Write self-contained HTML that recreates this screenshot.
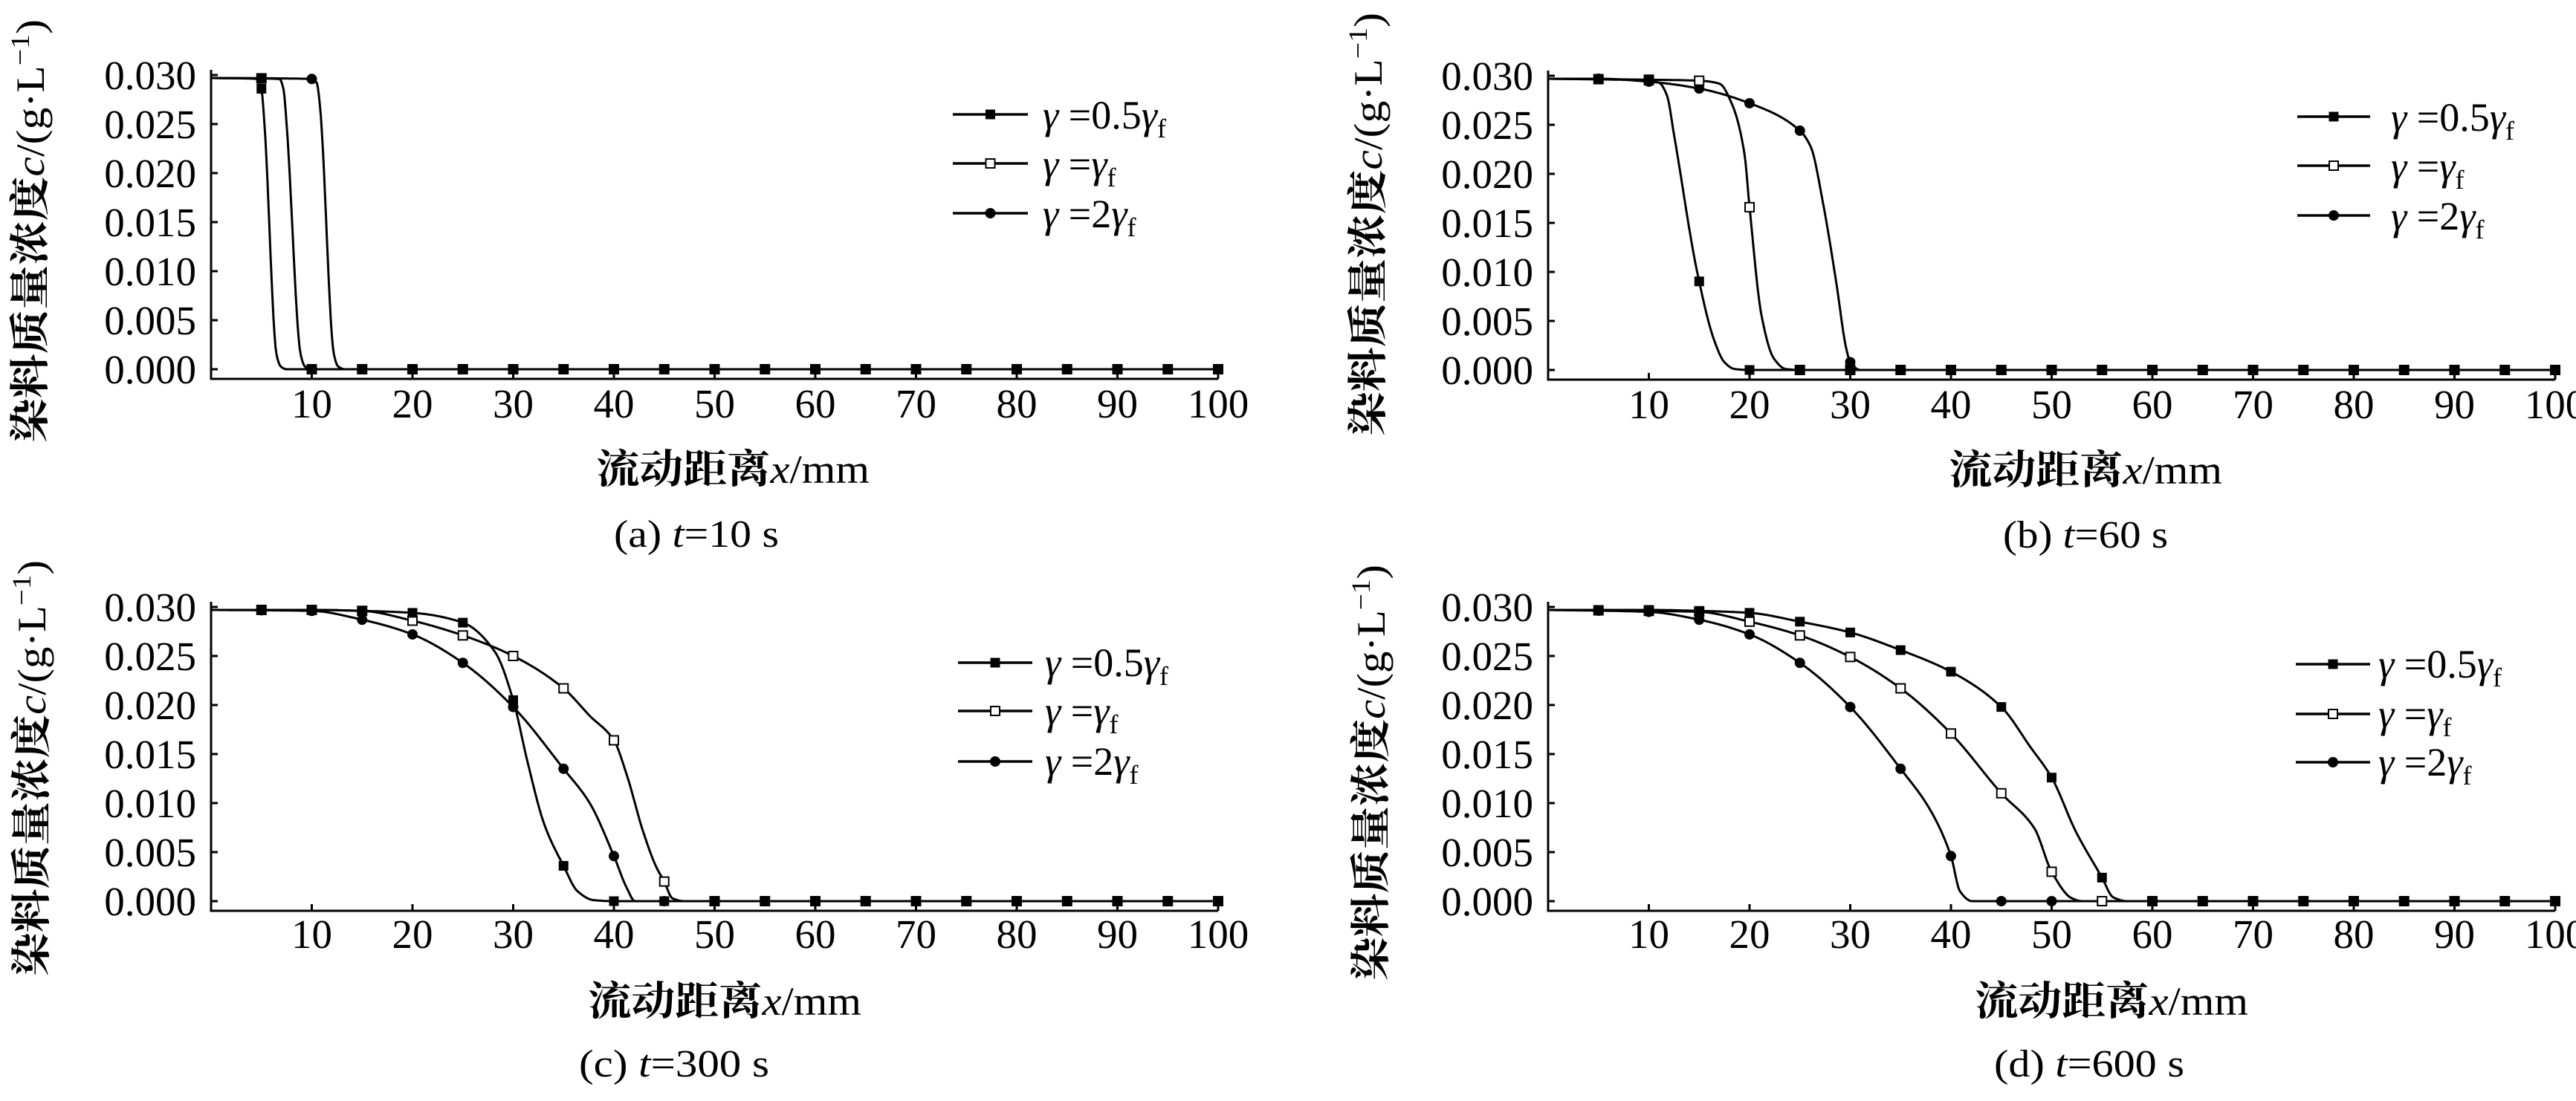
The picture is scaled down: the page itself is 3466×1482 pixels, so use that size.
<!DOCTYPE html>
<html><head><meta charset="utf-8">
<style>
html,body{margin:0;padding:0;background:#fff;}
svg{display:block;}
.t{font-family:"Liberation Serif","Noto Serif CJK SC",serif;fill:#000;}
.cj{font-family:"Liberation Serif","Noto Serif CJK SC",serif;font-weight:bold;}
</style></head>
<body>
<svg id="s" width="3466" height="1482" viewBox="0 0 3466 1482" xmlns="http://www.w3.org/2000/svg">
<rect width="3466" height="1482" fill="#fff"/>

<!-- Panel a -->
<g id="pa" transform="translate(284,101)">
 <g class="t" font-size="55" text-anchor="end">
  <text x="-20" y="19">0.030</text><text x="-20" y="85">0.025</text><text x="-20" y="151">0.020</text><text x="-20" y="217">0.015</text><text x="-20" y="283">0.010</text><text x="-20" y="349">0.005</text><text x="-20" y="415">0.000</text>
 </g>
 <g class="t" font-size="55" text-anchor="middle">
  <text x="135.5" y="461">10</text><text x="271" y="461">20</text><text x="406.5" y="461">30</text><text x="542" y="461">40</text><text x="677.5" y="461">50</text><text x="813" y="461">60</text><text x="948.5" y="461">70</text><text x="1084" y="461">80</text><text x="1219.5" y="461">90</text><text x="1355" y="461">100</text>
 </g>
 <text class="t" transform="translate(-225,210) rotate(-90)" font-size="54" text-anchor="middle" textLength="570" lengthAdjust="spacingAndGlyphs"><tspan class="cj">染料质量浓度</tspan><tspan font-style="italic">c</tspan>/(g·L<tspan font-size="36" dy="-20">−1</tspan><tspan dy="20">)</tspan></text>
 <text class="t" x="518" y="549" font-size="54" textLength="368" lengthAdjust="spacingAndGlyphs"><tspan class="cj">流动距离</tspan><tspan font-style="italic">x</tspan>/mm</text>
 <text class="t" x="542" y="635" font-size="52" textLength="222" lengthAdjust="spacingAndGlyphs">(a) <tspan font-style="italic">t</tspan>=10 s</text>
 <g class="t" font-size="54" transform="translate(1119,0)">
  <text x="0" y="72"><tspan font-style="italic">γ</tspan> =0.5<tspan font-style="italic">γ</tspan><tspan font-size="36" dy="12">f</tspan></text>
  <text x="0" y="138"><tspan font-style="italic">γ</tspan> =<tspan font-style="italic">γ</tspan><tspan font-size="36" dy="12">f</tspan></text>
  <text x="0" y="205"><tspan font-style="italic">γ</tspan> =2<tspan font-style="italic">γ</tspan><tspan font-size="36" dy="12">f</tspan></text>
 </g>
</g>

<!-- Panel b -->
<g id="pb" transform="translate(2083,102)">
 <g class="t" font-size="55" text-anchor="end">
  <text x="-20" y="19">0.030</text><text x="-20" y="85">0.025</text><text x="-20" y="151">0.020</text><text x="-20" y="217">0.015</text><text x="-20" y="283">0.010</text><text x="-20" y="349">0.005</text><text x="-20" y="415">0.000</text>
 </g>
 <g class="t" font-size="55" text-anchor="middle">
  <text x="135.5" y="461">10</text><text x="271" y="461">20</text><text x="406.5" y="461">30</text><text x="542" y="461">40</text><text x="677.5" y="461">50</text><text x="813" y="461">60</text><text x="948.5" y="461">70</text><text x="1084" y="461">80</text><text x="1219.5" y="461">90</text><text x="1355" y="461">100</text>
 </g>
 <text class="t" transform="translate(-224,200) rotate(-90)" font-size="54" text-anchor="middle" textLength="570" lengthAdjust="spacingAndGlyphs"><tspan class="cj">染料质量浓度</tspan><tspan font-style="italic">c</tspan>/(g·L<tspan font-size="36" dy="-20">−1</tspan><tspan dy="20">)</tspan></text>
 <text class="t" x="539" y="549" font-size="54" textLength="368" lengthAdjust="spacingAndGlyphs"><tspan class="cj">流动距离</tspan><tspan font-style="italic">x</tspan>/mm</text>
 <text class="t" x="612" y="635" font-size="52" textLength="222" lengthAdjust="spacingAndGlyphs">(b) <tspan font-style="italic">t</tspan>=60 s</text>
 <g class="t" font-size="54" transform="translate(1134,0)">
  <text x="0" y="74"><tspan font-style="italic">γ</tspan> =0.5<tspan font-style="italic">γ</tspan><tspan font-size="36" dy="12">f</tspan></text>
  <text x="0" y="140"><tspan font-style="italic">γ</tspan> =<tspan font-style="italic">γ</tspan><tspan font-size="36" dy="12">f</tspan></text>
  <text x="0" y="207"><tspan font-style="italic">γ</tspan> =2<tspan font-style="italic">γ</tspan><tspan font-size="36" dy="12">f</tspan></text>
 </g>
</g>

<!-- Panel c -->
<g id="pc" transform="translate(284,817)">
 <g class="t" font-size="55" text-anchor="end">
  <text x="-20" y="19">0.030</text><text x="-20" y="85">0.025</text><text x="-20" y="151">0.020</text><text x="-20" y="217">0.015</text><text x="-20" y="283">0.010</text><text x="-20" y="349">0.005</text><text x="-20" y="415">0.000</text>
 </g>
 <g class="t" font-size="55" text-anchor="middle">
  <text x="135.5" y="459">10</text><text x="271" y="459">20</text><text x="406.5" y="459">30</text><text x="542" y="459">40</text><text x="677.5" y="459">50</text><text x="813" y="459">60</text><text x="948.5" y="459">70</text><text x="1084" y="459">80</text><text x="1219.5" y="459">90</text><text x="1355" y="459">100</text>
 </g>
 <text class="t" transform="translate(-223,217) rotate(-90)" font-size="54" text-anchor="middle" textLength="560" lengthAdjust="spacingAndGlyphs"><tspan class="cj">染料质量浓度</tspan><tspan font-style="italic">c</tspan>/(g·L<tspan font-size="36" dy="-20">−1</tspan><tspan dy="20">)</tspan></text>
 <text class="t" x="507" y="549" font-size="54" textLength="368" lengthAdjust="spacingAndGlyphs"><tspan class="cj">流动距离</tspan><tspan font-style="italic">x</tspan>/mm</text>
 <text class="t" x="495" y="632" font-size="52" textLength="256" lengthAdjust="spacingAndGlyphs">(c) <tspan font-style="italic">t</tspan>=300 s</text>
 <g class="t" font-size="54" transform="translate(1122,0)">
  <text x="0" y="93"><tspan font-style="italic">γ</tspan> =0.5<tspan font-style="italic">γ</tspan><tspan font-size="36" dy="12">f</tspan></text>
  <text x="0" y="158"><tspan font-style="italic">γ</tspan> =<tspan font-style="italic">γ</tspan><tspan font-size="36" dy="12">f</tspan></text>
  <text x="0" y="226"><tspan font-style="italic">γ</tspan> =2<tspan font-style="italic">γ</tspan><tspan font-size="36" dy="12">f</tspan></text>
 </g>
</g>

<!-- Panel d -->
<g id="pd" transform="translate(2083,817)">
 <g class="t" font-size="55" text-anchor="end">
  <text x="-20" y="19">0.030</text><text x="-20" y="85">0.025</text><text x="-20" y="151">0.020</text><text x="-20" y="217">0.015</text><text x="-20" y="283">0.010</text><text x="-20" y="349">0.005</text><text x="-20" y="415">0.000</text>
 </g>
 <g class="t" font-size="55" text-anchor="middle">
  <text x="135.5" y="459">10</text><text x="271" y="459">20</text><text x="406.5" y="459">30</text><text x="542" y="459">40</text><text x="677.5" y="459">50</text><text x="813" y="459">60</text><text x="948.5" y="459">70</text><text x="1084" y="459">80</text><text x="1219.5" y="459">90</text><text x="1355" y="459">100</text>
 </g>
 <text class="t" transform="translate(-220,223) rotate(-90)" font-size="54" text-anchor="middle" textLength="560" lengthAdjust="spacingAndGlyphs"><tspan class="cj">染料质量浓度</tspan><tspan font-style="italic">c</tspan>/(g·L<tspan font-size="36" dy="-20">−1</tspan><tspan dy="20">)</tspan></text>
 <text class="t" x="574" y="549" font-size="54" textLength="368" lengthAdjust="spacingAndGlyphs"><tspan class="cj">流动距离</tspan><tspan font-style="italic">x</tspan>/mm</text>
 <text class="t" x="600" y="632" font-size="52" textLength="256" lengthAdjust="spacingAndGlyphs">(d) <tspan font-style="italic">t</tspan>=600 s</text>
 <g class="t" font-size="54" transform="translate(1117,0)">
  <text x="0" y="95"><tspan font-style="italic">γ</tspan> =0.5<tspan font-style="italic">γ</tspan><tspan font-size="36" dy="12">f</tspan></text>
  <text x="0" y="162"><tspan font-style="italic">γ</tspan> =<tspan font-style="italic">γ</tspan><tspan font-size="36" dy="12">f</tspan></text>
  <text x="0" y="227"><tspan font-style="italic">γ</tspan> =2<tspan font-style="italic">γ</tspan><tspan font-size="36" dy="12">f</tspan></text>
 </g>
</g>
</svg>
<script>
(function(){
var NS="http://www.w3.org/2000/svg";
var XS=13.55, H=396;
function el(p,n,a){var e=document.createElementNS(NS,n);for(var k in a)e.setAttribute(k,a[k]);p.appendChild(e);return e;}
function mono(pts){
  var n=pts.length,x=[],y=[],d=[],m=[];
  for(var i=0;i<n;i++){x[i]=pts[i][0];y[i]=pts[i][1];}
  for(i=0;i<n-1;i++)d[i]=(y[i+1]-y[i])/(x[i+1]-x[i]);
  m[0]=d[0];m[n-1]=d[n-2];
  for(i=1;i<n-1;i++){ if(d[i-1]*d[i]<=0)m[i]=0; else { var w1=2*(x[i+1]-x[i])+(x[i]-x[i-1]),w2=(x[i+1]-x[i])+2*(x[i]-x[i-1]); m[i]=(w1+w2)/(w1/d[i-1]+w2/d[i]);} }
  return function(t){
    if(t<=x[0])return y[0]; if(t>=x[n-1])return y[n-1];
    var k=0;while(t>x[k+1])k++;
    var h=x[k+1]-x[k],s=(t-x[k])/h;
    var h00=2*s*s*s-3*s*s+1,h10=s*s*s-2*s*s+s,h01=-2*s*s*s+3*s*s,h11=s*s*s-s*s;
    return h00*y[k]+h10*h*m[k]+h01*y[k+1]+h11*h*m[k+1];
  };
}
function py(v){return H*(1-v/0.03);}
function panel(id,series,legY,legX1,legX2,extra){
  var g=document.getElementById(id);
  // axes
  el(g,"path",{d:"M0,-7 L0,409 L1355,409",fill:"none",stroke:"#000","stroke-width":3});
  for(var i=0;i<7;i++)el(g,"line",{x1:0,x2:9,y1:i*66,y2:i*66,stroke:"#000","stroke-width":3});
  for(i=1;i<=10;i++)el(g,"line",{x1:i*135.5,x2:i*135.5,y1:409,y2:400,stroke:"#000","stroke-width":3});
  var types=["sq","osq","ci"];
  var order=[2,1,0];
  order.forEach(function(si){
    var f=mono(series[si]);var d="";
    for(var t=0;t<=100;t+=0.1){d+=(t==0?"M":"L")+(t*XS).toFixed(1)+","+py(f(t)).toFixed(1);}
    el(g,"path",{d:d,fill:"none",stroke:"#000","stroke-width":3,"stroke-linejoin":"round"});
  });
  function mk(type,x,y){
    if(type=="sq")el(g,"rect",{x:x-6.5,y:y-6.5,width:13,height:13,fill:"#000"});
    else if(type=="osq")el(g,"rect",{x:x-6,y:y-6,width:12,height:12,fill:"#fff",stroke:"#000","stroke-width":2});
    else el(g,"circle",{cx:x,cy:y,r:7,fill:"#000"});
  }
  order.forEach(function(si){
    var f=mono(series[si]);
    for(var t=5;t<=100;t+=5)mk(types[si],t*XS,py(f(t)));
  });
  if(extra)extra.forEach(function(e){mk(e[0],e[1]*XS,py(e[2]));});
  for(i=0;i<3;i++){
    el(g,"line",{x1:legX1,x2:legX2,y1:legY[i],y2:legY[i],stroke:"#000","stroke-width":3.5});
    mk(types[i],(legX1+legX2)/2,legY[i]);
  }
}
panel("pa",[
 [[0,.0297],[4.6,.0296],[5,.0286],[5.3,.025],[6.5,.0015],[6.9,.0003],[7.5,0],[100,0]],
 [[0,.0297],[6.8,.0296],[7.2,.0285],[7.5,.025],[8.9,.0015],[9.3,.0003],[9.9,0],[100,0]],
 [[0,.0297],[10,.0296],[10.5,.0292],[10.8,.027],[12.2,.0015],[12.6,.0003],[13.3,0],[100,0]]
],[53,119,186],998,1099,[["sq",5,.0297]]);
panel("pb",[
 [[0,.0297],[10,.0295],[11,.0293],[11.8,.028],[12.5,.024],[14.8,.010],[16.5,.003],[17.5,.0008],[18.5,.0001],[20,0],[100,0]],
 [[0,.0297],[10,.0296],[15,.0295],[17,.0292],[18.3,.027],[19.5,.022],[20,.0166],[21.2,.0055],[22.4,.0012],[23.6,.0001],[25,0],[100,0]],
 [[0,.0297],[5,.0297],[10,.0294],[15,.0287],[20,.0272],[25,.0244],[26.1,.0227],[27.3,.017],[28.6,.009],[29.6,.0022],[30,.0008],[31,0],[100,0]]
],[55,121,188],1008,1106);
panel("pc",[
 [[0,.0297],[10,.0297],[15,.0296],[20,.0294],[25,.0284],[28.2,.0254],[30,.0205],[31.4,.0143],[33.1,.0078],[35,.0036],[36.4,.001],[38,.0001],[40,0],[100,0]],
 [[0,.0297],[10,.0297],[15,.0296],[20,.0286],[25,.0271],[30,.025],[35,.0217],[37.6,.0189],[40,.0164],[41.3,.0128],[42.9,.0071],[44.2,.0035],[45,.002],[45.8,.0003],[47,0],[100,0]],
 [[0,.0297],[10,.0296],[15,.0287],[20,.0272],[25,.0243],[30,.0198],[35,.0135],[37.6,.01],[40,.0046],[41.3,.0013],[42.1,0],[100,0]]
],[75,140,208],1005,1105);
panel("pd",[
 [[0,.0297],[10,.0297],[15,.0296],[20,.0294],[25,.0285],[30,.0274],[35,.0256],[40,.0234],[45,.0198],[47.9,.0157],[50,.0126],[52.4,.0071],[55,.0024],[56.1,.0004],[57.5,0],[100,0]],
 [[0,.0297],[10,.0296],[15,.0295],[20,.0285],[25,.0271],[30,.0249],[35,.0217],[40,.0171],[45,.011],[48.3,.0074],[50,.003],[52,.0003],[53,0],[100,0]],
 [[0,.0297],[10,.0295],[15,.0287],[20,.0272],[25,.0243],[30,.0198],[35,.0135],[38,.0092],[40,.0046],[40.9,.001],[42.1,0],[100,0]]
],[77,144,209],1006,1106);
})();
</script>
</body></html>
